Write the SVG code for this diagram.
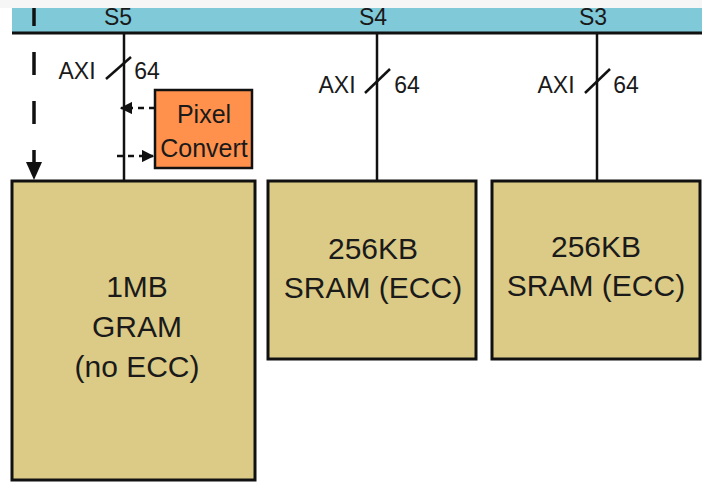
<svg xmlns="http://www.w3.org/2000/svg" width="702" height="483" viewBox="0 0 702 483">
<style>
.t{font-family:"Liberation Sans",Arial,sans-serif;fill:#1a1a1a;text-anchor:middle}
.lbl{font-size:23px}
.bus{font-size:23px}
.mem{fill:#DCCB87;stroke:#111;stroke-width:3}
.mt{font-size:30px}
.ln{stroke:#111;stroke-width:2.5;fill:none}
.dash{stroke:#111;stroke-width:2.5;fill:none;stroke-dasharray:6 5}
</style>
<defs>
<marker id="ah" viewBox="0 0 10 10" refX="9" refY="5" markerWidth="5" markerHeight="5" orient="auto" markerUnits="strokeWidth">
<path d="M0,0 L10,5 L0,10 Z" fill="#111"/>
</marker>
</defs>
<rect x="0" y="0" width="702" height="483" fill="#fff"/>
<rect x="0" y="0" width="702" height="8" fill="#f6f6f6"/>
<g id="bus">
<rect x="12" y="8" width="690" height="25" fill="#80C9D8"/>
<line x1="12" y1="33" x2="702" y2="33" stroke="#111" stroke-width="3"/>
<text class="t lbl" x="118" y="25">S5</text>
<text class="t lbl" x="373" y="25">S4</text>
<text class="t lbl" x="593" y="25">S3</text>
</g>
<g id="connectors">
<line class="ln" x1="124" y1="34" x2="124" y2="181"/>
<line class="ln" x1="377" y1="34" x2="377" y2="181"/>
<line class="ln" x1="597" y1="34" x2="597" y2="181"/>
<line class="ln" x1="106" y1="79" x2="131" y2="57"/>
<line class="ln" x1="365" y1="93" x2="390" y2="69"/>
<line class="ln" x1="585" y1="93" x2="610" y2="69"/>
<line x1="34" y1="8" x2="34" y2="164" stroke="#111" stroke-width="3.5" stroke-dasharray="23 26" stroke-dashoffset="5"/>
<path d="M26,162 L42,162 L34,180 Z" fill="#111"/>
<line class="dash" x1="155" y1="108" x2="121" y2="108" marker-end="url(#ah)"/>
<line class="dash" x1="117" y1="156" x2="153" y2="156" marker-end="url(#ah)"/>
</g>
<g id="axi-labels">
<text class="t bus" x="77" y="79">AXI</text>
<text class="t bus" x="147" y="79">64</text>
<text class="t bus" x="337" y="93">AXI</text>
<text class="t bus" x="407" y="93">64</text>
<text class="t bus" x="556" y="93">AXI</text>
<text class="t bus" x="626" y="93">64</text>
</g>
<g id="pixel-convert">
<rect x="155" y="90" width="97" height="78" fill="#FF914D" stroke="#111" stroke-width="2.5"/>
<text class="t" style="font-size:25px" x="204" y="123">Pixel</text>
<text class="t" style="font-size:25px" x="204" y="157">Convert</text>
</g>
<g id="gram">
<rect class="mem" x="12" y="181" width="243" height="299"/>
<text class="t mt" x="137" y="297">1MB</text>
<text class="t mt" x="137" y="337">GRAM</text>
<text class="t mt" x="137" y="377">(no ECC)</text>
</g>
<g id="sram1">
<rect class="mem" x="268" y="181" width="208" height="178"/>
<text class="t mt" x="373" y="259">256KB</text>
<text class="t mt" x="373" y="298">SRAM (ECC)</text>
</g>
<g id="sram2">
<rect class="mem" x="492" y="181" width="208" height="178"/>
<text class="t mt" x="596" y="257">256KB</text>
<text class="t mt" x="596" y="296">SRAM (ECC)</text>
</g>
</svg>
